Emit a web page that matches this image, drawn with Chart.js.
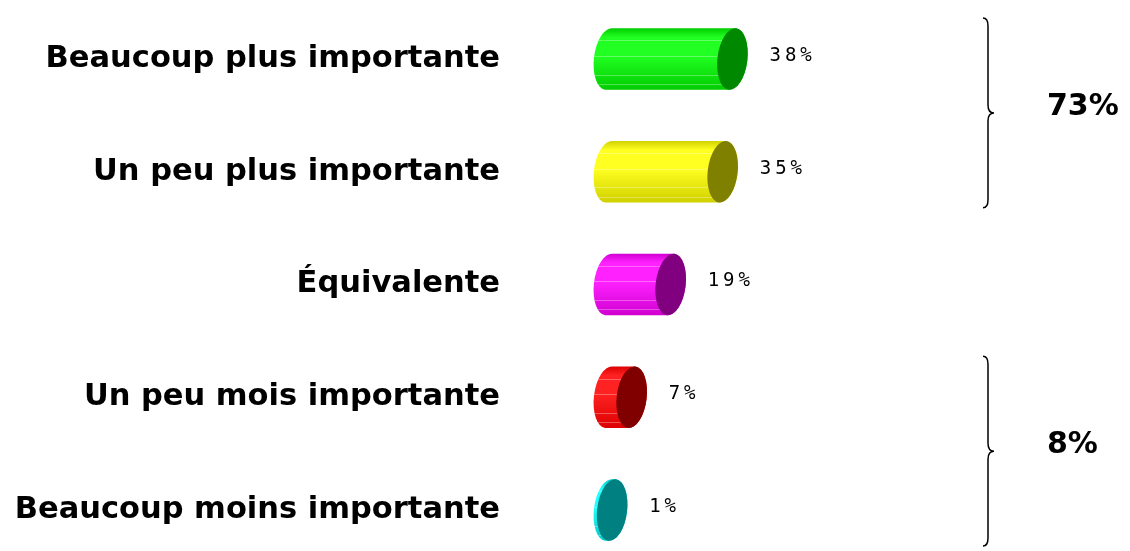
<!DOCTYPE html>
<html>
<head>
<meta charset="utf-8">
<script src="https://cdn.jsdelivr.net/npm/chart.js@4/dist/chart.umd.min.js"></script>
<style>
  html, body { margin: 0; padding: 0; background: #ffffff; }
  #wrap { width: 1130px; height: 551px; }
</style>
</head>
<body>
<div id="wrap"><canvas id="importanceChart" width="1130" height="551"></canvas></div>
<script>
// données
const categories = ['Beaucoup plus importante', 'Un peu plus importante', 'Équivalente', 'Un peu mois importante', 'Beaucoup moins importante'];
const values = [38, 35, 19, 7, 1];
const valueLabels = ['38%', '35%', '19%', '7%', '1%'];
// couleurs: corps du cylindre (clair, foncé) et face avant
const bodyLight = ['#22ff22', '#ffff22', '#ff22ff', '#ff2222', '#22ffff'];
const bodyDark = ['#00cc00', '#d0d000', '#d000d0', '#dd0000', '#00c8c8'];
const capColors = ['#008800', '#808000', '#800080', '#800000', '#008080'];
// accolades: [première catégorie, dernière catégorie, total]
const groups = [[0, 1, '73%'], [3, 4, '8%']];

// dessine les barres en forme de cylindre
const cylinderPlugin = {
    id: 'cylinders',
    afterDatasetsDraw(chart) {
        const ctx = chart.ctx;
        const meta = chart.getDatasetMeta(0);
        const rot = 0.12;
        meta.data.forEach((bar, i) => {
            const p = bar.getProps(['x', 'y', 'base', 'height'], true);
            const rx = 15;
            const ry = p.height / 2;

            // corps
            const grad = ctx.createLinearGradient(0, p.y - ry, 0, p.y + ry);
            grad.addColorStop(0, bodyDark[i]);
            grad.addColorStop(0.15, bodyLight[i]);
            grad.addColorStop(0.45, bodyLight[i]);
            grad.addColorStop(1, bodyDark[i]);
            ctx.save();
            ctx.beginPath();
            ctx.ellipse(p.base, p.y, rx, ry, rot, Math.PI / 2, Math.PI * 3 / 2);
            ctx.ellipse(p.x, p.y, rx, ry, rot, -Math.PI / 2, Math.PI / 2);
            ctx.closePath();
            ctx.fillStyle = grad;
            ctx.fill();

            // lignes claires horizontales
            ctx.clip();
            ctx.strokeStyle = 'rgba(255,255,255,0.3)';
            ctx.lineWidth = 1;
            [0.2, 0.45, 0.75, 0.9].forEach(f => {
                const yy = Math.round(p.y - ry + f * p.height) + 0.5;
                ctx.beginPath();
                ctx.moveTo(p.base - rx - 5, yy);
                ctx.lineTo(p.x + rx, yy);
                ctx.stroke();
            });
            ctx.restore();

            // face avant
            ctx.beginPath();
            ctx.ellipse(p.x, p.y, rx, ry, rot, 0, Math.PI * 2);
            ctx.fillStyle = capColors[i];
            ctx.fill();

            // étiquette de valeur
            ctx.save();
            ctx.font = '19px "DejaVu Sans Mono"';
            ctx.letterSpacing = '4px';
            ctx.fillStyle = '#000000';
            ctx.textAlign = 'left';
            ctx.textBaseline = 'middle';
            ctx.fillText(valueLabels[i], p.x + rx + 22, p.y - 3);
            ctx.restore();
        });

        // accolades et totaux
        const yScale = chart.scales.y;
        groups.forEach(g => {
            const top = yScale.getPixelForValue(g[0]) - 41;
            const bottom = yScale.getPixelForValue(g[1]) + 36;
            const mid = (top + bottom) / 2;
            const x0 = 983, x1 = 988, x2 = 994;
            ctx.save();
            ctx.strokeStyle = '#000000';
            ctx.lineWidth = 1.5;
            ctx.beginPath();
            ctx.moveTo(x0, top);
            ctx.quadraticCurveTo(x1, top, x1, top + 8);
            ctx.lineTo(x1, mid - 8);
            ctx.quadraticCurveTo(x1, mid, x2, mid);
            ctx.quadraticCurveTo(x1, mid, x1, mid + 8);
            ctx.lineTo(x1, bottom - 8);
            ctx.quadraticCurveTo(x1, bottom, x0, bottom);
            ctx.stroke();
            ctx.font = 'bold 30px "DejaVu Sans"';
            ctx.fillStyle = '#000000';
            ctx.textAlign = 'left';
            ctx.textBaseline = 'middle';
            ctx.fillText(g[2], 1047, mid - 6);
            ctx.restore();
        });
    }
};

const ctx = document.getElementById('importanceChart').getContext('2d');
const importanceChart = new Chart(ctx, {
    type: 'bar',
    data: {
        labels: categories,
        datasets: [{
            data: values,
            backgroundColor: 'rgba(0,0,0,0)',
            borderWidth: 0,
            barThickness: 62
        }]
    },
    options: {
        indexAxis: 'y',
        responsive: false,
        animation: false,
        layout: { padding: { top: 59, bottom: 41, left: 0, right: 196 } },
        plugins: {
            legend: { display: false },
            tooltip: { enabled: false }
        },
        scales: {
            x: {
                min: -33.5,   // zéro placé à ~609px
                max: 100,
                display: false
            },
            y: {
                offset: false,
                grid: { display: false, drawTicks: false },
                border: { display: false },
                ticks: {
                    padding: 0,
                    color: '#000000',
                    font: { family: '"DejaVu Sans"', weight: 'bold', size: 30.5 }
                },
                afterFit(scale) { scale.width = 500; }
            }
        }
    },
    plugins: [cylinderPlugin]
});
</script>
</body>
</html>
